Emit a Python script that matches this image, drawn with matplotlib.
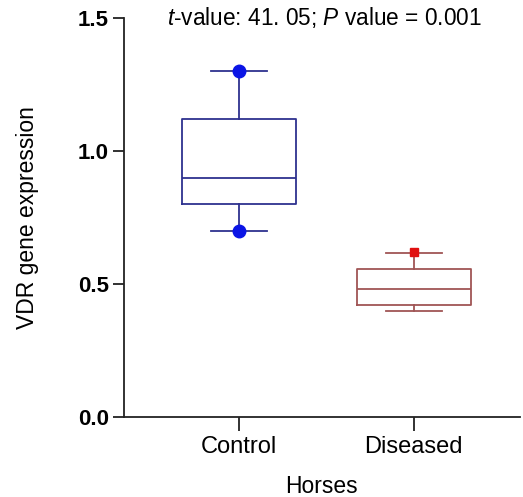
import matplotlib
matplotlib.use("Agg")
import matplotlib.pyplot as plt

plt.rcParams['font.family'] = ['Liberation Sans', 'DejaVu Sans']
plt.rcParams['mathtext.fontset'] = 'custom'
plt.rcParams['mathtext.rm'] = 'Liberation Sans'
plt.rcParams['mathtext.it'] = 'Liberation Sans:italic'

groups = ["Control", "Diseased"]
whis_lo = [0.70, 0.40]
q1 = [0.80, 0.42]
medians = [0.90, 0.48]
q3 = [1.12, 0.555]
whis_hi = [1.30, 0.615]
box_colors = ["#2e318f", "#a05555"]
marker_colors = ["#0a14e6", "#e01010"]
marker_shapes = ["o", "s"]

fig = plt.figure(figsize=(5.23, 4.97), dpi=100)
ax = fig.add_axes([0.237, 0.161, 0.757, 0.803])

positions = [1, 2]
for i, g in enumerate(groups):
    stats = [dict(med=medians[i], q1=q1[i], q3=q3[i],
                  whislo=whis_lo[i], whishi=whis_hi[i], fliers=[], label=g)]
    c = box_colors[i]
    ax.bxp(stats, positions=[positions[i]], widths=0.65, showfliers=False,
           boxprops=dict(color=c, linewidth=1.3),
           medianprops=dict(color=c, linewidth=1.3),
           whiskerprops=dict(color=c, linewidth=1.3),
           capprops=dict(color=c, linewidth=1.3),
           capwidths=0.32, manage_ticks=False)

# points at whisker ends
ax.plot(positions[0], whis_hi[0], marker_shapes[0], color=marker_colors[0], ms=9, zorder=5)
ax.plot(positions[0], whis_lo[0], marker_shapes[0], color=marker_colors[0], ms=9, zorder=5)
ax.plot(positions[1], whis_hi[1] + 0.005, marker_shapes[1], color=marker_colors[1], ms=6, zorder=5)

ax.set_xlim(0.343, 2.606)
ax.set_ylim(0, 1.5)
ax.set_xticks(positions)
ax.set_xticklabels(groups, fontsize=17)
ax.set_yticks([0.0, 0.5, 1.0, 1.5])
ax.set_yticklabels(["0.0", "0.5", "1.0", "1.5"], fontsize=16, fontweight="bold")
ax.tick_params(axis="both", direction="out", width=1.3, color="#222222")
ax.tick_params(axis="y", length=8, pad=3)
ax.tick_params(axis="x", length=10, pad=4)

for s in ["top", "right"]:
    ax.spines[s].set_visible(False)
for s in ["left", "bottom"]:
    ax.spines[s].set_linewidth(1.3)
    ax.spines[s].set_color("#222222")

ax.set_xlabel("Horses", fontsize=16.5, labelpad=12)
ax.set_ylabel("VDR gene expression", fontsize=16.5, labelpad=28)

ax.text(0.505, 1.0, r"$\it{t}$-value: 41. 05; $\it{P}$ value = 0.001",
        transform=ax.transAxes, ha="center", va="center", fontsize=16.3)

fig.savefig("out.png", dpi=100)
